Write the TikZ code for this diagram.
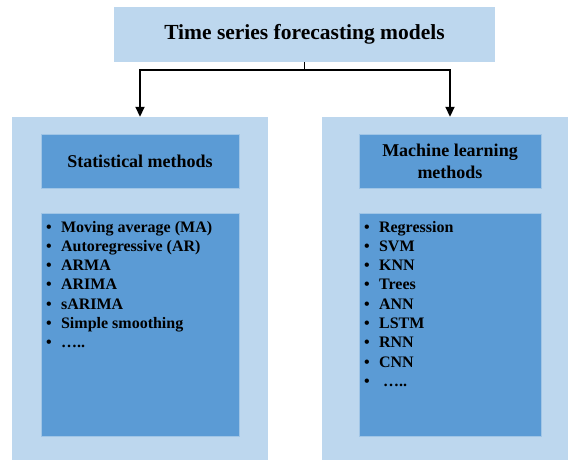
\documentclass[tikz,border=0pt]{standalone}
\usepackage{fontspec}
\setmainfont{Liberation Serif}
\usetikzlibrary{arrows.meta}
\definecolor{paleblue}{HTML}{BDD7EE}
\definecolor{midblue}{HTML}{5B9BD5}
\tikzset{
	panel/.style={fill=paleblue, draw=none, inner sep=0pt},
	inbox/.style={fill=midblue, draw=paleblue!70!midblue, line width=0.4pt, inner sep=0pt, align=center, font=\bfseries\fontsize{18}{22}\selectfont},
	entry/.style={anchor=base west, inner sep=0pt, font=\bfseries\fontsize{16}{19}\selectfont},
	link/.style={line width=1.8pt, -{Triangle[length=10pt,width=9pt]}}
}
\begin{document}
\begin{tikzpicture}[x=1pt,y=-1pt]
	\useasboundingbox (0,0) rectangle (568,460);
	\node[panel, minimum width=381pt, minimum height=55pt, font=\bfseries\fontsize{21.5}{26}\selectfont] (top) at (304.5,34.5) {Time series forecasting models};
	\node[panel, minimum width=256pt, minimum height=343pt] (statpanel) at (140,288.5) {};
	\node[panel, minimum width=246pt, minimum height=343pt] (mlpanel) at (445,288.5) {};
	\node[inbox, minimum width=198pt, minimum height=54pt] (stattitle) at (140,161) {Statistical methods};
	\node[inbox, minimum width=182pt, minimum height=54pt] (mltitle) at (450,161) {Machine learning\\methods};
	\node[inbox, minimum width=198pt, minimum height=223pt] (statlist) at (140,324.5) {};
	\node[inbox, minimum width=182pt, minimum height=223pt] (mllist) at (450,324.5) {};
	% bullet lists
	\foreach \txt [count=\i] in {{Moving average (MA)},{Autoregressive (AR)},ARMA,ARIMA,sARIMA,{Simple smoothing},{…..}}
		\node[entry] (stat\i) at ([xshift=5pt]statlist.west |- 0,{232+19.3*(\i-1)}) {\textbullet\hspace{9.5pt}\txt};
	\foreach \txt [count=\i] in {Regression,SVM,KNN,Trees,ANN,LSTM,RNN,CNN,{\hspace{4pt}…..}}
		\node[entry] (ml\i) at ([xshift=5pt]mllist.west |- 0,{232+19.3*(\i-1)}) {\textbullet\hspace{9.5pt}\txt};
	% connectors
	\draw[link] (top.south) -- ++(0,8) coordinate (split) -| (statpanel.north);
	\draw[link] (split) -| ([xshift=5pt]mlpanel.north);
\end{tikzpicture}
\end{document}
